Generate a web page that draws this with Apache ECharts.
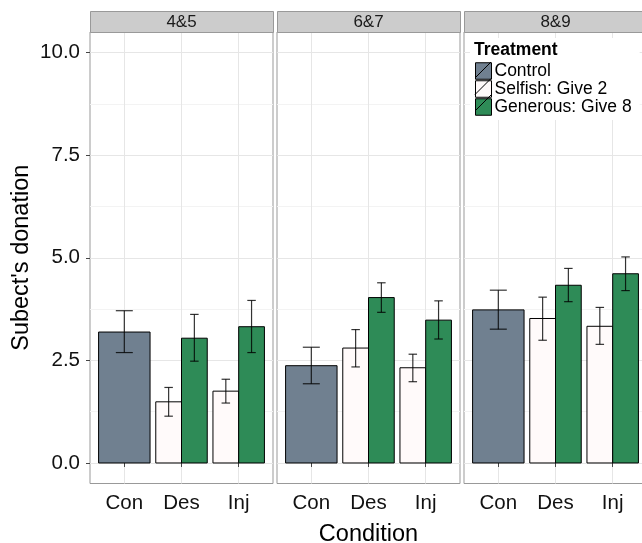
<!DOCTYPE html>
<html>
<head>
<meta charset="utf-8">
<script src="https://cdn.jsdelivr.net/npm/echarts@6/dist/echarts.min.js"></script>
<style>
html,body{margin:0;padding:0;background:#fff;}
#chart{width:642px;height:543px;}
</style>
</head>
<body>
<div id="chart"></div>
<script>
// ---- data ----
const facets = ['4&5', '6&7', '8&9'];
const conditions = ['Con', 'Des', 'Inj'];
const treatments = ['Control', 'Selfish: Give 2', 'Generous: Give 8'];
const yTicks = [0, 2.5, 5, 7.5, 10];
const yMinorTicks = [1.25, 3.75, 6.25, 8.75];
// Control only appears for "Con"
const controlMean = [3.19, 2.37, 3.73];
const controlLow  = [2.69, 1.93, 3.26];
const controlHigh = [3.71, 2.82, 4.21];
// Selfish / Generous: [Des, Inj] per facet
const selfishMean = [[1.49, 1.75], [2.80, 2.32], [3.52, 3.33]];
const selfishLow  = [[1.14, 1.46], [2.34, 1.98], [2.99, 2.89]];
const selfishHigh = [[1.84, 2.04], [3.25, 2.65], [4.04, 3.79]];
const generousMean = [[3.04, 3.32], [4.03, 3.48], [4.33, 4.61]];
const generousLow  = [[2.48, 2.69], [3.67, 3.02], [3.93, 4.20]];
const generousHigh = [[3.62, 3.96], [4.39, 3.95], [4.74, 5.02]];

// ---- styles / layout ----
const colors = ['#708090', '#FFFAFA', '#2E8B57'];
const dodgeOffset = [0, -0.225, 0.225];
const dodgeWidth = [0.9, 0.45, 0.45];
const FONT = 'Liberation Sans, Arial, Helvetica, sans-serif';
const panelLeft = [90, 277, 464];
const panelWidth = 183;
const panelTop = 32;
const panelHeight = 451.5;

const chart = echarts.init(document.getElementById('chart'), null, {renderer: 'canvas'});

function makeRender(t) {
  return function (params, api) {
    const x = api.value(0) + dodgeOffset[t];
    const m = api.value(1), lo = api.value(2), hi = api.value(3);
    const base = api.coord([x, 0]);
    const top = api.coord([x, m]);
    const w = api.size([dodgeWidth[t], 0])[0];
    const pLo = api.coord([x, lo]);
    const pHi = api.coord([x, hi]);
    const cw = w * 0.33 / 2;
    const errStyle = {stroke: 'rgba(0,0,0,0.8)', lineWidth: 1.2};
    return {
      type: 'group',
      children: [
        {type: 'rect', shape: {x: base[0] - w / 2, y: top[1], width: w, height: base[1] - top[1]},
         style: {fill: colors[t], stroke: '#000', lineWidth: 1}},
        {type: 'line', shape: {x1: pLo[0], y1: pLo[1], x2: pHi[0], y2: pHi[1]}, style: errStyle},
        {type: 'line', shape: {x1: pHi[0] - cw, y1: pHi[1], x2: pHi[0] + cw, y2: pHi[1]}, style: errStyle},
        {type: 'line', shape: {x1: pLo[0] - cw, y1: pLo[1], x2: pLo[0] + cw, y2: pLo[1]}, style: errStyle}
      ]
    };
  };
}

const grids = [], xAxes = [], yAxes = [], series = [], graphics = [];
facets.forEach(function (f, i) {
  grids.push({left: panelLeft[i], top: panelTop, width: panelWidth, height: panelHeight,
    containLabel: false, outerBoundsMode: 'none',
    show: true, borderColor: '#999', borderWidth: 1, backgroundColor: '#fff'});
  xAxes.push({type: 'value', gridIndex: i, min: 0.4, max: 3.6,
    name: i === 1 ? 'Condition' : '', nameLocation: 'middle', nameGap: 39,
    nameTextStyle: {fontFamily: FONT, fontSize: 23.5, color: '#000'},
    axisLine: {show: false},
    axisTick: {show: true, length: 4, lineStyle: {color: '#444'}, customValues: [1, 2, 3]},
    axisLabel: {show: true, customValues: [1, 2, 3], margin: 9,
      formatter: function (v) { return conditions[Math.round(v) - 1]; },
      fontFamily: FONT, fontSize: 20.5, color: '#111'},
    splitLine: {show: true, lineStyle: {color: '#e6e6e6', width: 1}}
  });
  // major y axis
  yAxes.push({type: 'value', gridIndex: i, min: -0.5, max: 10.5,
    name: i === 0 ? "Subect's donation" : '', nameLocation: 'middle', nameGap: 56,
    nameTextStyle: {fontFamily: FONT, fontSize: 23.5, color: '#000'},
    axisLine: {show: false},
    axisTick: {show: i === 0, length: 4, lineStyle: {color: '#444'}, customValues: yTicks},
    axisLabel: {show: i === 0, customValues: yTicks, margin: 10,
      formatter: function (v) { return v.toFixed(1); },
      fontFamily: FONT, fontSize: 20.5, color: '#111'},
    splitLine: {show: true, lineStyle: {color: '#e6e6e6', width: 1}}
  });
  // minor grid y axis
  yAxes.push({type: 'value', gridIndex: i, min: -0.5, max: 10.5, position: 'left',
    axisLine: {show: false},
    axisTick: {show: false, customValues: yMinorTicks},
    axisLabel: {show: false, customValues: yMinorTicks},
    splitLine: {show: true, lineStyle: {color: '#f3f3f3', width: 1}}
  });
  const yIdx = i * 2;
  series.push({type: 'custom', name: treatments[0], xAxisIndex: i, yAxisIndex: yIdx,
    itemStyle: {color: colors[0], borderColor: '#000', borderWidth: 1},
    renderItem: makeRender(0), encode: {x: 0, y: [1, 2, 3]},
    data: [[1, controlMean[i], controlLow[i], controlHigh[i]]]});
  series.push({type: 'custom', name: treatments[1], xAxisIndex: i, yAxisIndex: yIdx,
    itemStyle: {color: colors[1], borderColor: '#000', borderWidth: 1},
    renderItem: makeRender(1), encode: {x: 0, y: [1, 2, 3]},
    data: [0, 1].map(function (k) { return [k + 2, selfishMean[i][k], selfishLow[i][k], selfishHigh[i][k]]; })});
  series.push({type: 'custom', name: treatments[2], xAxisIndex: i, yAxisIndex: yIdx,
    itemStyle: {color: colors[2], borderColor: '#000', borderWidth: 1},
    renderItem: makeRender(2), encode: {x: 0, y: [1, 2, 3]},
    data: [0, 1].map(function (k) { return [k + 2, generousMean[i][k], generousLow[i][k], generousHigh[i][k]]; })});
  // facet strip
  graphics.push({type: 'rect', left: panelLeft[i], top: 11, z: 10,
    shape: {width: panelWidth, height: 21},
    style: {fill: '#cccccc', stroke: '#999', lineWidth: 1}});
  graphics.push({type: 'text', x: panelLeft[i] + panelWidth / 2, y: 22, z: 11,
    style: {text: f, fontFamily: FONT, fontSize: 17, fill: '#1a1a1a', align: 'center', verticalAlign: 'middle'}});
});

// legend key slashes
[0, 1, 2].forEach(function (k) {
  graphics.push({type: 'line', z: 100, shape: {x1: 475, y1: 78 + k * 16.5, x2: 491, y2: 62 + k * 16.5},
    style: {stroke: '#000', lineWidth: 1}});
});

chart.setOption({
  animation: false,
  textStyle: {fontFamily: FONT},
  grid: grids,
  xAxis: xAxes,
  yAxis: yAxes,
  series: series,
  title: {text: 'Treatment', left: 474, top: 41, padding: 0,
    textStyle: {fontFamily: FONT, fontSize: 17.5, fontWeight: 'bold', color: '#000'}},
  legend: {data: treatments, orient: 'vertical', left: 470, top: 38,
    padding: [24, 8, 4, 5], backgroundColor: '#fff',
    icon: 'rect', itemWidth: 16, itemHeight: 16.5, itemGap: 0,
    itemStyle: {borderColor: '#000', borderWidth: 1},
    selectedMode: false,
    textStyle: {fontFamily: FONT, fontSize: 17.5, color: '#000', lineHeight: 16.5, padding: [0, 0, 0, -2]}},
  graphic: graphics
});
</script>
</body>
</html>
